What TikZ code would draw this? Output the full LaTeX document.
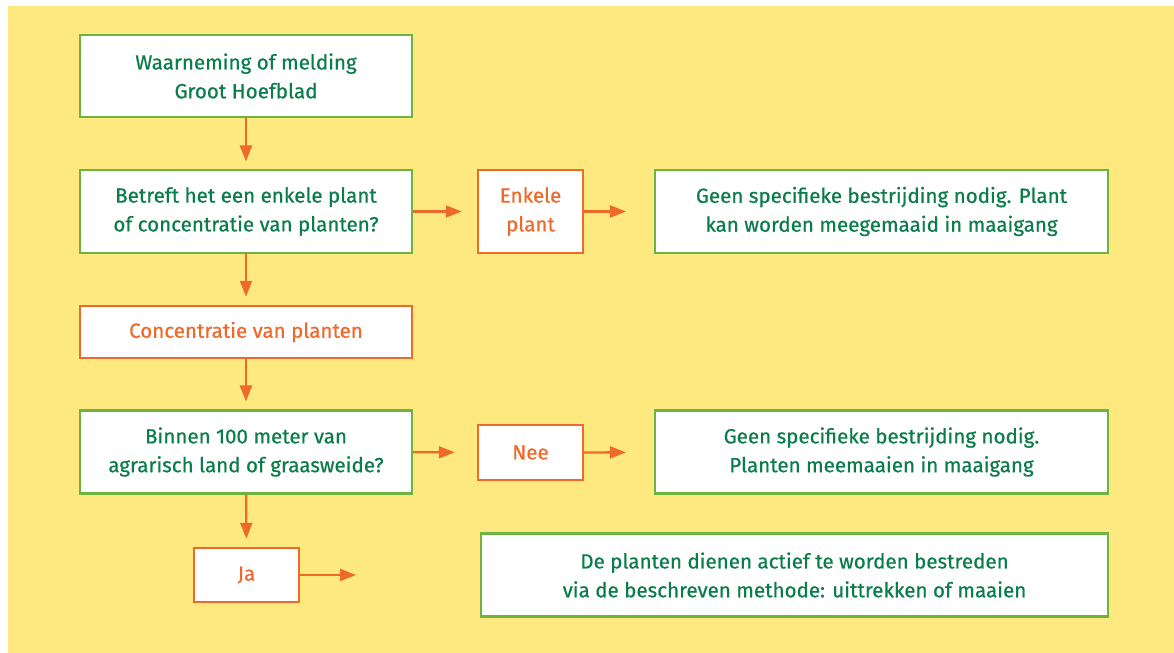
\documentclass[tikz,border=0pt]{standalone}
\usepackage{fontspec}
\setmainfont{Fira Sans}
\newfontfamily\flowfont[FakeBold=0.6]{Fira Sans}
\usetikzlibrary{arrows.meta}

\definecolor{bgyellow}{HTML}{FDE980}
\definecolor{boxgreen}{HTML}{6CB43F}
\definecolor{txtgreen}{HTML}{0B7D4A}
\definecolor{flowred}{HTML}{EE6A2A}

\begin{document}
\begin{tikzpicture}[
  greenbox/.style={draw=boxgreen,line width=1.2pt,fill=white,text=txtgreen,align=center,inner sep=0pt,font=\flowfont\fontsize{11.7}{16.4}\selectfont},
  orangebox/.style={draw=flowred,line width=1.4pt,fill=white,text=flowred,align=center,inner sep=0pt,font=\flowfont\fontsize{11.7}{16.4}\selectfont},
  flow/.style={draw=flowred,line width=1.3pt,-{Triangle[length=0.32cm,width=0.24cm]}}]
  \useasboundingbox (0,0) rectangle (23.48,-13.06);
  \fill[bgyellow] (0.16,-0.12) rectangle (23.48,-13.06);

  \node[greenbox,minimum width=6.64cm,minimum height=1.64cm] (melding) at (4.92,-1.52) {Waarneming of melding\\Groot Hoefblad};
  \node[greenbox,minimum width=6.64cm,minimum height=1.66cm] (betreft) at (4.92,-4.23) {Betreft het een enkele plant\\of concentratie van planten?};
  \node[orangebox,minimum width=2.1cm,minimum height=1.66cm] (enkele) at (10.61,-4.23) {Enkele\\plant};
  \node[greenbox,minimum width=9.06cm,minimum height=1.66cm] (geenplant) at (17.63,-4.23) {Geen specifieke bestrijding nodig. Plant\\kan worden meegemaaid in maaigang};
  \node[orangebox,minimum width=6.64cm,minimum height=1.04cm] (concentratie) at (4.92,-6.64) {Concentratie van planten};
  \node[greenbox,minimum width=6.64cm,minimum height=1.66cm] (binnen) at (4.92,-9.04) {Binnen 100 meter van\\agrarisch land of graasweide?};
  \node[orangebox,minimum width=2.1cm,minimum height=1.1cm] (nee) at (10.61,-9.05) {Nee};
  \node[greenbox,minimum width=9.06cm,minimum height=1.66cm] (geenplanten) at (17.63,-9.04) {Geen specifieke bestrijding nodig.\\Planten meemaaien in maaigang};
  \node[orangebox,minimum width=2.1cm,minimum height=1.08cm] (ja) at (4.93,-11.5) {Ja};
  \node[greenbox,minimum width=12.54cm,minimum height=1.66cm] (bestrijden) at (15.89,-11.5) {De planten dienen actief te worden bestreden\\via de beschreven methode: uittrekken of maaien};
  \coordinate (jaend) at (7.12,-11.5);

  \draw[flow,shorten >=0.15cm] (melding) -- (betreft);
  \draw[flow,shorten >=0.3cm] (betreft) -- (enkele);
  \draw[flow,shorten >=0.56cm] (enkele) -- (geenplant);
  \draw[flow,shorten >=0.16cm] (betreft) -- (concentratie);
  \draw[flow,shorten >=0.16cm] (concentratie) -- (binnen);
  \draw[flow,shorten >=0.44cm] (binnen) -- (nee);
  \draw[flow,shorten >=0.56cm] (nee) -- (geenplanten);
  \draw[flow,shorten >=0.16cm] (binnen) -- (ja);
  \draw[flow] (ja) -- (jaend);

\end{tikzpicture}
\end{document}
